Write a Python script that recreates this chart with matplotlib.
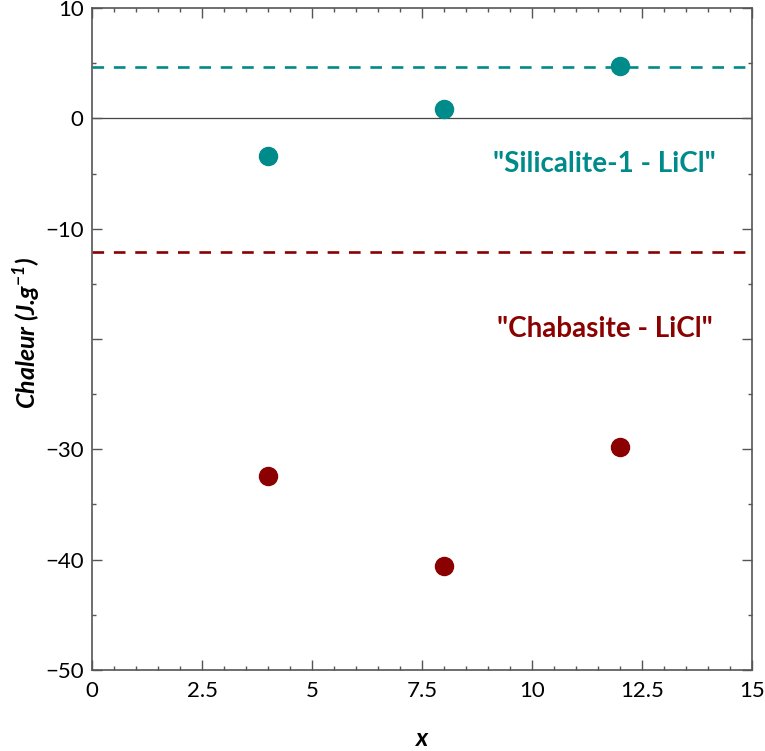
import matplotlib.pyplot as plt
from matplotlib.ticker import MultipleLocator, FuncFormatter

# data
x_vals = [4, 8, 12]
silicalite = [-3.4, 0.85, 4.75]
chabasite = [-32.4, -40.6, -29.8]
silicalite_ref = 4.7
chabasite_ref = -12.1

teal = '#008b8b'
red = '#8b0000'

plt.rcParams['font.family'] = ['Lato', 'DejaVu Sans']

fig = plt.figure(figsize=(7.65, 7.51), dpi=100)
ax = fig.add_axes([0.1203, 0.1079, 0.8627, 0.8814])

ax.axhline(0, color='#444444', lw=0.9, zorder=1)
ax.axhline(silicalite_ref, color=teal, lw=1.9, dashes=(4.4, 3.7), zorder=2)
ax.axhline(chabasite_ref, color=red, lw=1.9, dashes=(4.4, 3.7), zorder=2)

ax.plot(x_vals, silicalite, 'o', color=teal, ms=13, zorder=3)
ax.plot(x_vals, chabasite, 'o', color=red, ms=13, zorder=3)

ax.text(11.65, -4.1, '"Silicalite-1 - LiCl"', color=teal, fontsize=20,
        fontweight='bold', ha='center', va='center')
ax.text(11.65, -19.1, '"Chabasite - LiCl"', color=red, fontsize=20,
        fontweight='bold', ha='center', va='center')

ax.set_xlim(0, 15)
ax.set_ylim(-50, 10)
ax.xaxis.set_major_locator(MultipleLocator(2.5))
ax.xaxis.set_minor_locator(MultipleLocator(0.5))
ax.yaxis.set_major_locator(MultipleLocator(10))
ax.yaxis.set_minor_locator(MultipleLocator(5))

ax.xaxis.set_major_formatter(FuncFormatter(lambda v, p: f'{v:g}'))
ax.yaxis.set_major_formatter(
    FuncFormatter(lambda v, p: '' if round(v) == -20 else f'{v:g}'.replace('-', '\u2212')))

ax.tick_params(which='both', direction='in', top=True, right=True,
               color='#555555', labelsize=16, width=1)
ax.tick_params(which='major', length=7)
ax.tick_params(which='minor', length=3)
ax.tick_params(axis='x', pad=8)
ax.tick_params(axis='y', pad=6)
for s in ax.spines.values():
    s.set_color('#555555')
    s.set_linewidth(1.2)

ax.set_xlabel('x', fontsize=18, fontweight='bold', style='italic', labelpad=19)
ax.set_ylabel('Chaleur (J.g$^{\\mathregular{-1}}$)', fontsize=18, fontweight='bold',
              style='italic')
ax.yaxis.set_label_coords(-0.075, 0.51)

plt.savefig('out.png', dpi=100)
plt.close()
